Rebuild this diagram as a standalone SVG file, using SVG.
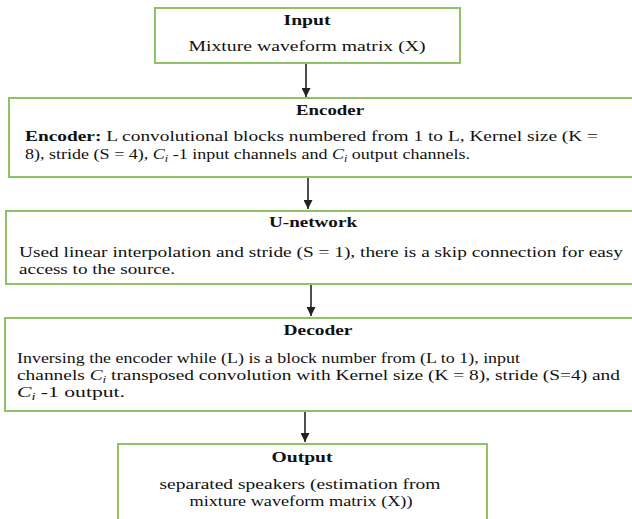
<svg xmlns="http://www.w3.org/2000/svg" width="632" height="519" viewBox="0 0 632 519">
<defs>
<style>
.box{fill:#fff;stroke:#8fc267;stroke-width:2}
.t{font-family:"Liberation Serif","Times New Roman",serif;font-size:15px;font-weight:bold;fill:#111;text-anchor:middle}
.b{font-family:"Liberation Serif","Times New Roman",serif;font-size:15px;fill:#111}
.m{text-anchor:middle}
.c{font-style:italic}
.s{font-style:italic;font-size:10px}
.conn{stroke:#222;stroke-width:1.6;fill:none;marker-end:url(#ah)}
</style>
<marker id="ah" markerUnits="userSpaceOnUse" markerWidth="9" markerHeight="9" viewBox="0 0 10 10" refX="10" refY="5" orient="auto">
<path d="M0,0 L10,5 L0,10 z" fill="#222"/>
</marker>
</defs>
<rect width="632" height="519" fill="#fff"/>
<g id="input">
<rect class="box" x="155" y="8" width="305" height="55"/>
<text class="t" x="307" y="25" textLength="47" lengthAdjust="spacingAndGlyphs">Input</text>
<text class="b m" x="307" y="51" textLength="237" lengthAdjust="spacingAndGlyphs">Mixture waveform matrix (X)</text>
</g>
<g id="encoder">
<rect class="box" x="9" y="98" width="640" height="79"/>
<text class="t" x="330" y="115" textLength="68" lengthAdjust="spacingAndGlyphs">Encoder</text>
<text class="b" x="25" y="141" textLength="573" lengthAdjust="spacingAndGlyphs"><tspan font-weight="bold">Encoder:</tspan> L convolutional blocks numbered from 1 to L, Kernel size (K =</text>
<text class="b" x="25" y="159" textLength="445" lengthAdjust="spacingAndGlyphs">8), stride (S = 4), <tspan class="c">C</tspan><tspan class="s" dy="3">i</tspan><tspan dy="-3"> -1 input channels and </tspan><tspan class="c">C</tspan><tspan class="s" dy="3">i</tspan><tspan dy="-3"> output channels.</tspan></text>
</g>
<g id="unetwork">
<rect class="box" x="6" y="211" width="640" height="73"/>
<text class="t" x="313" y="227" textLength="88" lengthAdjust="spacingAndGlyphs">U-network</text>
<text class="b" x="19" y="257" textLength="604" lengthAdjust="spacingAndGlyphs">Used linear interpolation and stride (S = 1), there is a skip connection for easy</text>
<text class="b" x="19" y="274" textLength="156" lengthAdjust="spacingAndGlyphs">access to the source.</text>
</g>
<g id="decoder">
<rect class="box" x="5" y="318" width="640" height="93"/>
<text class="t" x="318" y="335" textLength="69" lengthAdjust="spacingAndGlyphs">Decoder</text>
<text class="b" x="17" y="363" textLength="503" lengthAdjust="spacingAndGlyphs">Inversing the encoder while (L) is a block number from (L to 1), input</text>
<text class="b" x="17" y="380" textLength="603" lengthAdjust="spacingAndGlyphs">channels <tspan class="c">C</tspan><tspan class="s" dy="3">i</tspan><tspan dy="-3"> transposed convolution with Kernel size (K = 8), stride (S=4) and</tspan></text>
<text class="b" x="17" y="397" textLength="108" lengthAdjust="spacingAndGlyphs"><tspan class="c">C</tspan><tspan class="s" dy="3">i</tspan><tspan dy="-3"> -1 output.</tspan></text>
</g>
<g id="output">
<rect class="box" x="118" y="444" width="369" height="100"/>
<text class="t" x="302" y="462" textLength="61" lengthAdjust="spacingAndGlyphs">Output</text>
<text class="b m" x="300" y="489" textLength="281" lengthAdjust="spacingAndGlyphs">separated speakers (estimation from</text>
<text class="b m" x="301" y="506" textLength="223" lengthAdjust="spacingAndGlyphs">mixture waveform matrix (X))</text>
</g>
<g id="connectors">
<line class="conn" x1="306" y1="64" x2="306" y2="97"/>
<line class="conn" x1="308" y1="178" x2="308" y2="209"/>
<line class="conn" x1="311" y1="285" x2="311" y2="316"/>
<line class="conn" x1="305" y1="412" x2="305" y2="442"/>
</g>
</svg>
